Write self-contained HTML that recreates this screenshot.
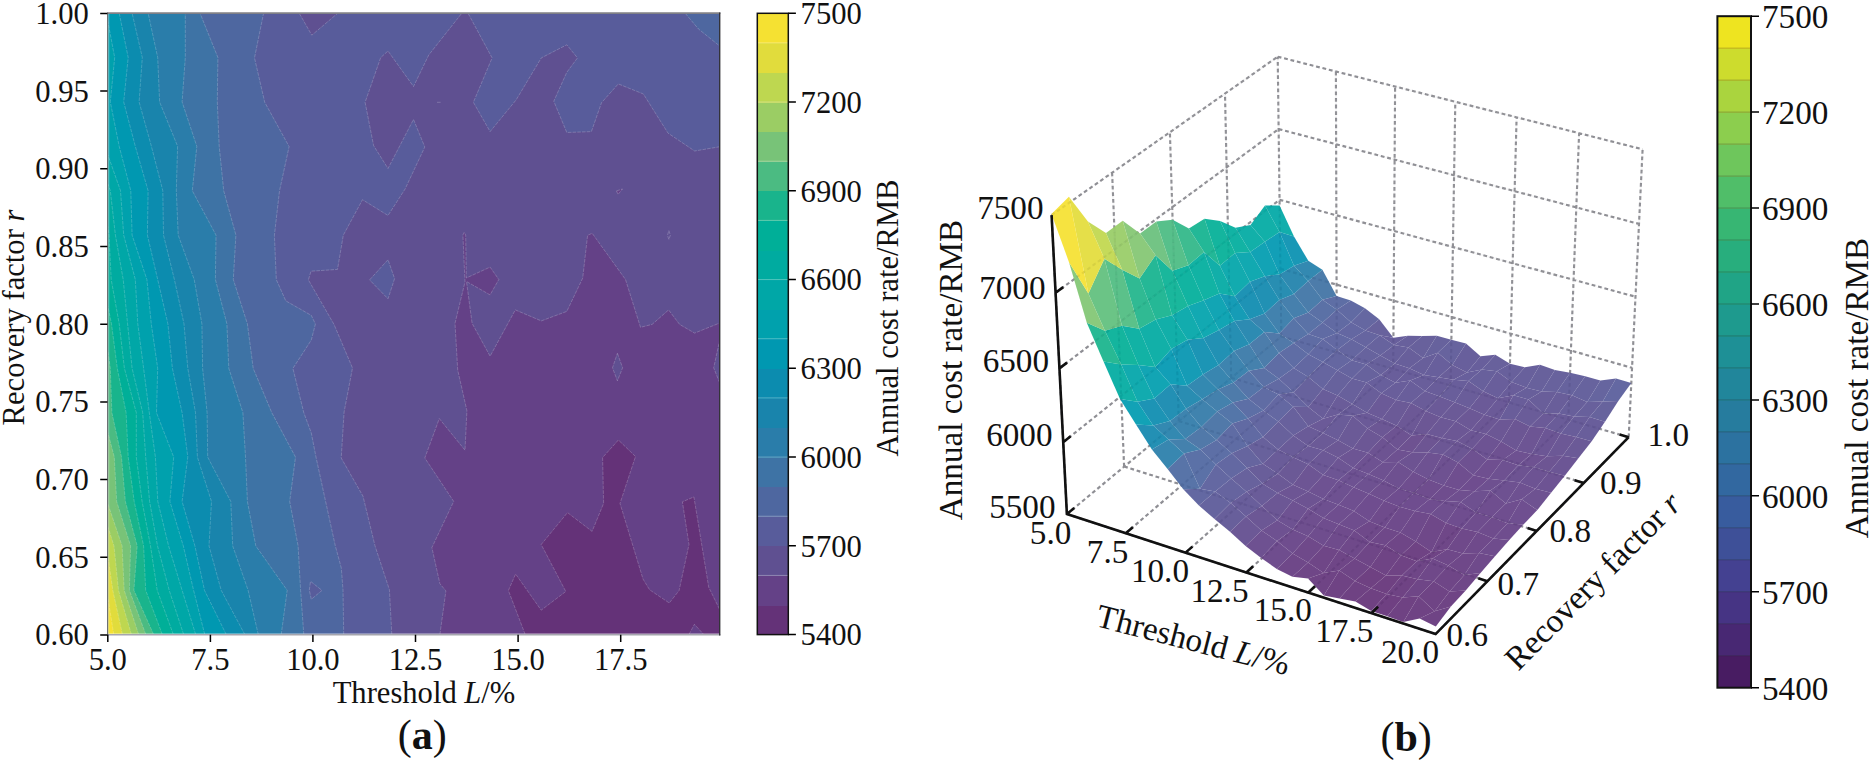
<!DOCTYPE html><html><head><meta charset="utf-8"><title>fig</title><style>html,body{margin:0;padding:0;background:#fff}svg{display:block}text{fill:#111}</style></head><body>
<svg width="1872" height="761" viewBox="0 0 1872 761">
<rect width="1872" height="761" fill="#fff"/>
<defs><clipPath id="cpl"><rect x="107.8" y="13.1" width="612.2" height="621.6"/></clipPath></defs>
<g clip-path="url(#cpl)" shape-rendering="geometricPrecision">
<rect x="106.8" y="12.1" width="614.2" height="623.6" fill="#f5e132"/>
<polygon points="113.8,636.7 113.8,634.7 107.8,597.0 105.8,597.0 105.8,11.1 722.0,11.1 722.0,636.7" fill="#e1dc3c"/>
<polygon points="122.5,636.7 122.5,634.7 112.8,590.3 107.8,555.3 105.8,555.3 105.8,11.1 722.0,11.1 722.0,636.7" fill="#bed750"/>
<polygon points="131.5,636.7 131.5,634.7 118.5,590.3 114.0,545.9 107.8,526.4 105.8,526.4 105.8,11.1 722.0,11.1 722.0,636.7" fill="#9bcd64"/>
<polygon points="138.7,636.7 138.7,634.7 124.2,590.3 122.1,545.9 107.8,503.7 105.8,503.7 105.8,11.1 722.0,11.1 722.0,636.7" fill="#78c378"/>
<polygon points="145.9,636.7 145.9,634.7 129.4,590.3 130.6,545.9 116.7,501.5 114.3,457.1 107.8,432.3 105.8,432.3 105.8,11.1 722.0,11.1 722.0,636.7" fill="#4bbb82"/>
<polygon points="153.7,636.7 153.7,634.7 133.9,590.3 137.2,545.9 125.4,501.5 121.5,457.1 111.9,412.7 110.3,368.3 107.8,350.2 105.8,350.2 105.8,11.1 722.0,11.1 722.0,636.7" fill="#19b48c"/>
<polygon points="162.4,636.7 162.4,634.7 145.7,590.3 143.6,545.9 134.2,501.5 128.2,457.1 126.1,412.7 117.3,368.3 111.5,323.9 107.8,306.1 105.8,306.1 105.8,11.1 722.0,11.1 722.0,636.7" fill="#00af98"/>
<polygon points="173.4,636.7 173.4,634.7 157.2,590.3 150.5,545.9 142.1,501.5 136.3,457.1 136.3,412.7 124.4,368.3 119.2,323.9 111.2,279.5 109.0,235.1 107.8,226.3 105.8,226.3 105.8,11.1 722.0,11.1 722.0,636.7" fill="#00aba0"/>
<polygon points="183.7,636.7 183.7,634.7 169.2,590.3 157.5,545.9 149.6,501.5 145.7,457.1 142.7,412.7 132.1,368.3 127.6,323.9 123.2,279.5 115.4,235.1 110.3,190.7 107.8,183.6 105.8,183.6 105.8,11.1 722.0,11.1 722.0,636.7" fill="#00a7a7"/>
<polygon points="195.7,636.7 195.7,634.7 182.1,590.3 168.6,545.9 157.8,501.5 155.4,457.1 149.3,412.7 143.6,368.3 137.8,323.9 135.3,279.5 123.7,235.1 120.5,190.7 107.8,154.7 105.8,154.7 105.8,11.1 722.0,11.1 722.0,636.7" fill="#00a1ad"/>
<polygon points="204.8,636.7 204.8,634.7 193.6,590.3 183.3,545.9 169.9,501.5 173.7,457.1 156.5,412.7 157.7,368.3 151.3,323.9 146.9,279.5 132.1,235.1 130.8,190.7 119.2,146.3 110.3,101.9 114.7,57.5 107.8,21.3 105.8,21.3 105.8,11.1 722.0,11.1 722.0,636.7" fill="#0098b1"/>
<polygon points="226.3,636.7 226.3,634.7 204.5,590.3 194.9,545.9 182.1,501.5 187.8,457.1 182.1,412.7 172.4,368.3 167.9,323.9 157.7,279.5 147.4,235.1 148.1,190.7 135.3,146.3 123.7,101.9 128.2,57.5 119.2,13.1 119.2,11.1 722.0,11.1 722.0,636.7" fill="#0c8caf"/>
<polygon points="244.9,636.7 244.9,634.7 221.2,590.3 209.0,545.9 211.5,501.5 197.4,457.1 195.5,412.7 187.8,368.3 184.0,323.9 174.4,279.5 163.5,235.1 162.8,190.7 151.4,146.3 139.1,101.9 142.3,57.5 132.1,13.1 132.1,11.1 722.0,11.1 722.0,636.7" fill="#1984ac"/>
<polygon points="258.3,636.7 258.3,634.7 248.1,590.3 232.7,545.9 230.8,501.5 207.7,457.1 207.1,412.7 202.6,368.3 201.9,323.9 194.2,279.5 178.2,235.1 176.3,190.7 177.6,146.3 159.6,101.9 157.7,57.5 148.1,13.1 148.1,11.1 722.0,11.1 722.0,636.7" fill="#2a7daa"/>
<polygon points="281.2,636.7 281.2,634.7 287.2,590.3 255.8,545.9 247.4,501.5 245.5,457.1 242.9,412.7 228.8,368.3 226.9,323.9 215.4,279.5 216.0,235.1 192.3,190.7 196.8,146.3 182.1,101.9 185.3,57.5 185.3,13.1 185.3,11.1 722.0,11.1 722.0,636.7" fill="#3e73a5"/>
<polygon points="303.8,636.7 303.8,634.7 300.6,590.3 298.1,545.9 289.7,501.5 295.5,457.1 271.8,412.7 253.2,368.3 247.4,323.9 233.3,279.5 235.9,235.1 223.7,190.7 219.2,146.3 217.3,101.9 217.9,57.5 200.0,13.1 200.0,11.1 722.0,11.1 722.0,636.7" fill="#4e67a0"/>
<polygon points="343.7,636.7 343.7,634.5 343.0,590.1 341.3,568.0 335.3,545.8 325.6,501.4 316.0,457.1 311.3,433.0 303.8,412.7 292.9,368.4 311.3,340.0 315.4,324.0 311.3,315.4 285.8,300.9 276.3,279.6 274.4,235.3 279.5,190.9 289.1,146.6 264.7,102.2 254.5,57.9 263.5,13.5 263.5,11.1 722.0,11.1 722.0,636.7" fill="#585c9b"/>
<polygon points="391.8,636.7 391.8,634.5 389.4,589.7 375.0,545.8 363.0,496.2 341.2,458.0 344.1,412.0 352.5,368.0 334.1,324.6 308.4,279.9 311.0,271.2 337.5,269.4 343.3,235.2 362.5,199.7 388.0,215.5 405.1,189.0 424.8,147.0 413.5,119.4 388.0,168.5 373.6,145.6 365.1,102.3 380.7,57.6 388.0,51.0 413.5,86.5 428.8,54.9 461.6,13.5 461.6,11.1 468.2,11.1 468.2,13.5 492.1,57.9 473.4,102.3 490.1,131.6 516.2,99.8 541.3,57.9 566.8,44.8 577.5,57.9 566.8,72.3 553.8,101.2 566.8,132.5 591.4,131.6 601.5,102.7 618.3,83.9 643.4,94.0 668.0,133.1 694.6,151.0 720.0,146.7 722.0,146.7 722.0,636.7" fill="#5f5091"/>
<polygon points="439.9,636.7 439.9,634.5 445.9,590.9 439.9,583.7 431.9,547.6 453.7,501.4 424.8,458.0 439.3,418.6 465.0,450.2 466.9,410.7 457.7,370.0 455.0,323.3 465.0,282.0 462.9,235.0 464.2,232.3 465.7,235.0 466.3,278.0 490.1,267.1 498.8,279.5 490.1,294.9 466.5,281.5 472.1,323.3 490.1,356.2 515.3,309.9 541.3,320.9 566.8,311.4 582.7,278.1 587.6,235.3 592.2,233.3 625.5,279.5 640.5,327.3 652.1,324.4 668.6,309.9 679.6,324.4 694.6,333.1 720.0,322.9 722.0,322.9 722.0,636.7" fill="#644187"/>
<polygon points="525.2,636.7 525.2,634.5 508.4,590.5 515.6,574.0 541.2,610.2 565.8,591.5 541.2,544.5 567.5,512.6 592.1,531.4 603.6,503.4 602.6,457.5 618.4,440.0 635.5,456.5 620.0,503.4 643.0,579.0 649.6,589.8 669.3,603.0 679.1,590.5 689.0,544.5 682.4,501.8 693.9,496.9 708.7,587.2 720.0,610.2 722.0,610.2 722.0,636.7" fill="#643278"/>
<polygon points="299.4,13.5 311.8,35.2 337.4,13.5" fill="#5f5091"/>
<polygon points="369.6,279.9 388.0,259.7 394.6,278.6 388.0,298.8" fill="#585c9b"/>
<polygon points="309.3,590.2 310.5,581.3 322.0,590.4 311.3,599.3" fill="#585c9b"/>
<polygon points="617.4,353.3 622.6,367.8 617.4,380.8 612.5,367.8" fill="#5f5091"/>
<polygon points="720.0,338.9 713.7,367.8 720.0,383.7" fill="#5f5091"/>
<polygon points="668.9,230.5 670.3,235.3 668.9,239.5 667.5,235.3" fill="#5f5091"/>
<polygon points="689.0,634.5 694.4,624.3 703.8,634.5" fill="#644187"/>
<polygon points="685.4,13.5 698.4,28.9 720.0,46.3 720.0,13.5" fill="#4e67a0"/>
<polygon points="616.5,190.9 622.5,189.0 618.0,194.5" fill="#644187"/>
<polyline points="113.8,634.7 107.8,597.0" fill="none" stroke="#ffffff" stroke-opacity="0.26" stroke-width="0.8" stroke-dasharray="3.6 1.1"/>
<polyline points="122.5,634.7 112.8,590.3 107.8,555.3" fill="none" stroke="#ffffff" stroke-opacity="0.26" stroke-width="0.8" stroke-dasharray="3.6 1.1"/>
<polyline points="131.5,634.7 118.5,590.3 114.0,545.9 107.8,526.4" fill="none" stroke="#ffffff" stroke-opacity="0.26" stroke-width="0.8" stroke-dasharray="3.6 1.1"/>
<polyline points="138.7,634.7 124.2,590.3 122.1,545.9 107.8,503.7" fill="none" stroke="#ffffff" stroke-opacity="0.26" stroke-width="0.8" stroke-dasharray="3.6 1.1"/>
<polyline points="145.9,634.7 129.4,590.3 130.6,545.9 116.7,501.5 114.3,457.1 107.8,432.3" fill="none" stroke="#ffffff" stroke-opacity="0.26" stroke-width="0.8" stroke-dasharray="3.6 1.1"/>
<polyline points="153.7,634.7 133.9,590.3 137.2,545.9 125.4,501.5 121.5,457.1 111.9,412.7 110.3,368.3 107.8,350.2" fill="none" stroke="#ffffff" stroke-opacity="0.26" stroke-width="0.8" stroke-dasharray="3.6 1.1"/>
<polyline points="162.4,634.7 145.7,590.3 143.6,545.9 134.2,501.5 128.2,457.1 126.1,412.7 117.3,368.3 111.5,323.9 107.8,306.1" fill="none" stroke="#ffffff" stroke-opacity="0.26" stroke-width="0.8" stroke-dasharray="3.6 1.1"/>
<polyline points="173.4,634.7 157.2,590.3 150.5,545.9 142.1,501.5 136.3,457.1 136.3,412.7 124.4,368.3 119.2,323.9 111.2,279.5 109.0,235.1 107.8,226.3" fill="none" stroke="#ffffff" stroke-opacity="0.26" stroke-width="0.8" stroke-dasharray="3.6 1.1"/>
<polyline points="183.7,634.7 169.2,590.3 157.5,545.9 149.6,501.5 145.7,457.1 142.7,412.7 132.1,368.3 127.6,323.9 123.2,279.5 115.4,235.1 110.3,190.7 107.8,183.6" fill="none" stroke="#ffffff" stroke-opacity="0.26" stroke-width="0.8" stroke-dasharray="3.6 1.1"/>
<polyline points="195.7,634.7 182.1,590.3 168.6,545.9 157.8,501.5 155.4,457.1 149.3,412.7 143.6,368.3 137.8,323.9 135.3,279.5 123.7,235.1 120.5,190.7 107.8,154.7" fill="none" stroke="#ffffff" stroke-opacity="0.26" stroke-width="0.8" stroke-dasharray="3.6 1.1"/>
<polyline points="204.8,634.7 193.6,590.3 183.3,545.9 169.9,501.5 173.7,457.1 156.5,412.7 157.7,368.3 151.3,323.9 146.9,279.5 132.1,235.1 130.8,190.7 119.2,146.3 110.3,101.9 114.7,57.5 107.8,21.3" fill="none" stroke="#ffffff" stroke-opacity="0.26" stroke-width="0.8" stroke-dasharray="3.6 1.1"/>
<polyline points="226.3,634.7 204.5,590.3 194.9,545.9 182.1,501.5 187.8,457.1 182.1,412.7 172.4,368.3 167.9,323.9 157.7,279.5 147.4,235.1 148.1,190.7 135.3,146.3 123.7,101.9 128.2,57.5 119.2,13.1" fill="none" stroke="#ffffff" stroke-opacity="0.26" stroke-width="0.8" stroke-dasharray="3.6 1.1"/>
<polyline points="244.9,634.7 221.2,590.3 209.0,545.9 211.5,501.5 197.4,457.1 195.5,412.7 187.8,368.3 184.0,323.9 174.4,279.5 163.5,235.1 162.8,190.7 151.4,146.3 139.1,101.9 142.3,57.5 132.1,13.1" fill="none" stroke="#ffffff" stroke-opacity="0.26" stroke-width="0.8" stroke-dasharray="3.6 1.1"/>
<polyline points="258.3,634.7 248.1,590.3 232.7,545.9 230.8,501.5 207.7,457.1 207.1,412.7 202.6,368.3 201.9,323.9 194.2,279.5 178.2,235.1 176.3,190.7 177.6,146.3 159.6,101.9 157.7,57.5 148.1,13.1" fill="none" stroke="#ffffff" stroke-opacity="0.26" stroke-width="0.8" stroke-dasharray="3.6 1.1"/>
<polyline points="281.2,634.7 287.2,590.3 255.8,545.9 247.4,501.5 245.5,457.1 242.9,412.7 228.8,368.3 226.9,323.9 215.4,279.5 216.0,235.1 192.3,190.7 196.8,146.3 182.1,101.9 185.3,57.5 185.3,13.1" fill="none" stroke="#ffffff" stroke-opacity="0.26" stroke-width="0.8" stroke-dasharray="3.6 1.1"/>
<polyline points="303.8,634.7 300.6,590.3 298.1,545.9 289.7,501.5 295.5,457.1 271.8,412.7 253.2,368.3 247.4,323.9 233.3,279.5 235.9,235.1 223.7,190.7 219.2,146.3 217.3,101.9 217.9,57.5 200.0,13.1" fill="none" stroke="#ffffff" stroke-opacity="0.26" stroke-width="0.8" stroke-dasharray="3.6 1.1"/>
<polyline points="343.7,634.5 343.0,590.1 341.3,568.0 335.3,545.8 325.6,501.4 316.0,457.1 311.3,433.0 303.8,412.7 292.9,368.4 311.3,340.0 315.4,324.0 311.3,315.4 285.8,300.9 276.3,279.6 274.4,235.3 279.5,190.9 289.1,146.6 264.7,102.2 254.5,57.9 263.5,13.5" fill="none" stroke="#ffffff" stroke-opacity="0.26" stroke-width="0.8" stroke-dasharray="3.6 1.1"/>
<polyline points="391.8,634.5 389.4,589.7 375.0,545.8 363.0,496.2 341.2,458.0 344.1,412.0 352.5,368.0 334.1,324.6 308.4,279.9 311.0,271.2 337.5,269.4 343.3,235.2 362.5,199.7 388.0,215.5 405.1,189.0 424.8,147.0 413.5,119.4 388.0,168.5 373.6,145.6 365.1,102.3 380.7,57.6 388.0,51.0 413.5,86.5 428.8,54.9 461.6,13.5" fill="none" stroke="#ffffff" stroke-opacity="0.26" stroke-width="0.8" stroke-dasharray="3.6 1.1"/>
<polyline points="468.2,13.5 492.1,57.9 473.4,102.3 490.1,131.6 516.2,99.8 541.3,57.9 566.8,44.8 577.5,57.9 566.8,72.3 553.8,101.2 566.8,132.5 591.4,131.6 601.5,102.7 618.3,83.9 643.4,94.0 668.0,133.1 694.6,151.0 720.0,146.7" fill="none" stroke="#ffffff" stroke-opacity="0.26" stroke-width="0.8" stroke-dasharray="3.6 1.1"/>
<polyline points="439.9,634.5 445.9,590.9 439.9,583.7 431.9,547.6 453.7,501.4 424.8,458.0 439.3,418.6 465.0,450.2 466.9,410.7 457.7,370.0 455.0,323.3 465.0,282.0 462.9,235.0 464.2,232.3 465.7,235.0 466.3,278.0 490.1,267.1 498.8,279.5 490.1,294.9 466.5,281.5 472.1,323.3 490.1,356.2 515.3,309.9 541.3,320.9 566.8,311.4 582.7,278.1 587.6,235.3 592.2,233.3 625.5,279.5 640.5,327.3 652.1,324.4 668.6,309.9 679.6,324.4 694.6,333.1 720.0,322.9" fill="none" stroke="#ffffff" stroke-opacity="0.26" stroke-width="0.8" stroke-dasharray="3.6 1.1"/>
<polyline points="525.2,634.5 508.4,590.5 515.6,574.0 541.2,610.2 565.8,591.5 541.2,544.5 567.5,512.6 592.1,531.4 603.6,503.4 602.6,457.5 618.4,440.0 635.5,456.5 620.0,503.4 643.0,579.0 649.6,589.8 669.3,603.0 679.1,590.5 689.0,544.5 682.4,501.8 693.9,496.9 708.7,587.2 720.0,610.2" fill="none" stroke="#ffffff" stroke-opacity="0.26" stroke-width="0.8" stroke-dasharray="3.6 1.1"/>
<polyline points="299.4,13.5 311.8,35.2 337.4,13.5 299.4,13.5" fill="none" stroke="#ffffff" stroke-opacity="0.26" stroke-width="0.8" stroke-dasharray="3.6 1.1"/>
<polyline points="369.6,279.9 388.0,259.7 394.6,278.6 388.0,298.8 369.6,279.9" fill="none" stroke="#ffffff" stroke-opacity="0.26" stroke-width="0.8" stroke-dasharray="3.6 1.1"/>
<polyline points="309.3,590.2 310.5,581.3 322.0,590.4 311.3,599.3 309.3,590.2" fill="none" stroke="#ffffff" stroke-opacity="0.26" stroke-width="0.8" stroke-dasharray="3.6 1.1"/>
<polyline points="617.4,353.3 622.6,367.8 617.4,380.8 612.5,367.8 617.4,353.3" fill="none" stroke="#ffffff" stroke-opacity="0.26" stroke-width="0.8" stroke-dasharray="3.6 1.1"/>
<polyline points="720.0,338.9 713.7,367.8 720.0,383.7 720.0,338.9" fill="none" stroke="#ffffff" stroke-opacity="0.26" stroke-width="0.8" stroke-dasharray="3.6 1.1"/>
<polyline points="668.9,230.5 670.3,235.3 668.9,239.5 667.5,235.3 668.9,230.5" fill="none" stroke="#ffffff" stroke-opacity="0.26" stroke-width="0.8" stroke-dasharray="3.6 1.1"/>
<polyline points="689.0,634.5 694.4,624.3 703.8,634.5 689.0,634.5" fill="none" stroke="#ffffff" stroke-opacity="0.26" stroke-width="0.8" stroke-dasharray="3.6 1.1"/>
<polyline points="685.4,13.5 698.4,28.9 720.0,46.3 720.0,13.5 685.4,13.5" fill="none" stroke="#ffffff" stroke-opacity="0.26" stroke-width="0.8" stroke-dasharray="3.6 1.1"/>
<polyline points="616.5,190.9 622.5,189.0 618.0,194.5 616.5,190.9" fill="none" stroke="#ffffff" stroke-opacity="0.26" stroke-width="0.8" stroke-dasharray="3.6 1.1"/>
<polyline points="437.0,102.3 441.5,102.3" fill="none" stroke="#ffffff" stroke-opacity="0.26" stroke-width="0.8" stroke-dasharray="3.6 1.1"/>
</g>
<path d="M108.7 13.1V634.7" stroke="#ffffff" stroke-opacity="0.5" stroke-width="0.9"/>
<path d="M107.8 633.7H720.0" stroke="#ffffff" stroke-opacity="0.45" stroke-width="0.9"/>
<path d="M107.3 634.7H720.4" stroke="#a6a6ae" stroke-width="1.5"/>
<path d="M107.6 12.5V635.3" stroke="#6c7074" stroke-width="1.2"/>
<path d="M107.1 13.2H720.4" stroke="#808086" stroke-width="1.7"/>
<path d="M719.7 12.4V635.4" stroke="#333338" stroke-width="1.4"/>
<text x="88.8" y="645.4" text-anchor="end" style="font-family:'Liberation Serif',serif;font-size:30.6px">0.60</text>
<text x="88.8" y="567.7" text-anchor="end" style="font-family:'Liberation Serif',serif;font-size:30.6px">0.65</text>
<text x="88.8" y="490.0" text-anchor="end" style="font-family:'Liberation Serif',serif;font-size:30.6px">0.70</text>
<text x="88.8" y="412.3" text-anchor="end" style="font-family:'Liberation Serif',serif;font-size:30.6px">0.75</text>
<text x="88.8" y="334.6" text-anchor="end" style="font-family:'Liberation Serif',serif;font-size:30.6px">0.80</text>
<text x="88.8" y="256.9" text-anchor="end" style="font-family:'Liberation Serif',serif;font-size:30.6px">0.85</text>
<text x="88.8" y="179.2" text-anchor="end" style="font-family:'Liberation Serif',serif;font-size:30.6px">0.90</text>
<text x="88.8" y="101.5" text-anchor="end" style="font-family:'Liberation Serif',serif;font-size:30.6px">0.95</text>
<text x="88.8" y="23.8" text-anchor="end" style="font-family:'Liberation Serif',serif;font-size:30.6px">1.00</text>
<text x="107.8" y="669.6" text-anchor="middle" style="font-family:'Liberation Serif',serif;font-size:30.6px">5.0</text>
<text x="210.4" y="669.6" text-anchor="middle" style="font-family:'Liberation Serif',serif;font-size:30.6px">7.5</text>
<text x="312.9" y="669.6" text-anchor="middle" style="font-family:'Liberation Serif',serif;font-size:30.6px">10.0</text>
<text x="415.5" y="669.6" text-anchor="middle" style="font-family:'Liberation Serif',serif;font-size:30.6px">12.5</text>
<text x="518.1" y="669.6" text-anchor="middle" style="font-family:'Liberation Serif',serif;font-size:30.6px">15.0</text>
<text x="620.7" y="669.6" text-anchor="middle" style="font-family:'Liberation Serif',serif;font-size:30.6px">17.5</text>
<path d="M100.2 635.0H107.4M100.2 557.3H107.4M100.2 479.6H107.4M100.2 401.9H107.4M100.2 324.2H107.4M100.2 246.5H107.4M100.2 168.8H107.4M100.2 91.1H107.4M100.2 13.4H107.4M107.8 634.7V642.1M210.4 634.7V642.1M312.9 634.7V642.1M415.5 634.7V642.1M518.1 634.7V642.1M620.7 634.7V642.1" stroke="#000" stroke-width="1.5" fill="none"/>
<text x="424" y="702.9" text-anchor="middle" style="font-family:'Liberation Serif',serif;font-size:30.6px">Threshold <tspan font-style="italic">L</tspan>/%</text>
<text transform="translate(23.9,317.5) rotate(-90)" text-anchor="middle" style="font-family:'Liberation Serif',serif;font-size:30.6px">Recovery factor <tspan font-style="italic">r</tspan></text>
<text x="422.2" y="749" text-anchor="middle" style="font-family:'Liberation Serif',serif;font-size:42px">(<tspan font-weight="bold">a</tspan>)</text>
<rect x="757.3" y="605.01" width="31.0" height="30.19" fill="#643278" shape-rendering="crispEdges"/>
<rect x="757.3" y="575.43" width="31.0" height="30.19" fill="#644187" shape-rendering="crispEdges"/>
<rect x="757.3" y="545.84" width="31.0" height="30.19" fill="#5f5091" shape-rendering="crispEdges"/>
<rect x="757.3" y="516.26" width="31.0" height="30.19" fill="#585c9b" shape-rendering="crispEdges"/>
<rect x="757.3" y="486.67" width="31.0" height="30.19" fill="#4e67a0" shape-rendering="crispEdges"/>
<rect x="757.3" y="457.09" width="31.0" height="30.19" fill="#3e73a5" shape-rendering="crispEdges"/>
<rect x="757.3" y="427.50" width="31.0" height="30.19" fill="#2a7daa" shape-rendering="crispEdges"/>
<rect x="757.3" y="397.91" width="31.0" height="30.19" fill="#1984ac" shape-rendering="crispEdges"/>
<rect x="757.3" y="368.33" width="31.0" height="30.19" fill="#0c8caf" shape-rendering="crispEdges"/>
<rect x="757.3" y="338.74" width="31.0" height="30.19" fill="#0098b1" shape-rendering="crispEdges"/>
<rect x="757.3" y="309.16" width="31.0" height="30.19" fill="#00a1ad" shape-rendering="crispEdges"/>
<rect x="757.3" y="279.57" width="31.0" height="30.19" fill="#00a7a7" shape-rendering="crispEdges"/>
<rect x="757.3" y="249.99" width="31.0" height="30.19" fill="#00aba0" shape-rendering="crispEdges"/>
<rect x="757.3" y="220.40" width="31.0" height="30.19" fill="#00af98" shape-rendering="crispEdges"/>
<rect x="757.3" y="190.81" width="31.0" height="30.19" fill="#19b48c" shape-rendering="crispEdges"/>
<rect x="757.3" y="161.23" width="31.0" height="30.19" fill="#4bbb82" shape-rendering="crispEdges"/>
<rect x="757.3" y="131.64" width="31.0" height="30.19" fill="#78c378" shape-rendering="crispEdges"/>
<rect x="757.3" y="102.06" width="31.0" height="30.19" fill="#9bcd64" shape-rendering="crispEdges"/>
<rect x="757.3" y="72.47" width="31.0" height="30.19" fill="#bed750" shape-rendering="crispEdges"/>
<rect x="757.3" y="42.89" width="31.0" height="30.19" fill="#e1dc3c" shape-rendering="crispEdges"/>
<rect x="757.3" y="13.30" width="31.0" height="30.19" fill="#f5e132" shape-rendering="crispEdges"/>
<path d="M757.3 575.43H788.3" stroke="rgba(255,255,255,0.35)" stroke-width="0.9"/>
<path d="M757.3 516.26H788.3" stroke="rgba(255,255,255,0.35)" stroke-width="0.9"/>
<path d="M757.3 457.09H788.3" stroke="rgba(255,255,255,0.35)" stroke-width="0.9"/>
<path d="M757.3 397.91H788.3" stroke="rgba(255,255,255,0.35)" stroke-width="0.9"/>
<path d="M757.3 338.74H788.3" stroke="rgba(255,255,255,0.35)" stroke-width="0.9"/>
<path d="M757.3 279.57H788.3" stroke="rgba(255,255,255,0.35)" stroke-width="0.9"/>
<path d="M757.3 220.40H788.3" stroke="rgba(255,255,255,0.35)" stroke-width="0.9"/>
<path d="M757.3 161.23H788.3" stroke="rgba(255,255,255,0.35)" stroke-width="0.9"/>
<path d="M757.3 102.06H788.3" stroke="rgba(255,255,255,0.35)" stroke-width="0.9"/>
<path d="M757.3 42.89H788.3" stroke="rgba(255,255,255,0.35)" stroke-width="0.9"/>
<rect x="757.3" y="13.3" width="31.0" height="621.3" fill="none" stroke="#111" stroke-width="1.5"/>
<text x="800.6" y="645.3" style="font-family:'Liberation Serif',serif;font-size:30.6px">5400</text>
<text x="800.6" y="556.5" style="font-family:'Liberation Serif',serif;font-size:30.6px">5700</text>
<text x="800.6" y="467.8" style="font-family:'Liberation Serif',serif;font-size:30.6px">6000</text>
<text x="800.6" y="379.0" style="font-family:'Liberation Serif',serif;font-size:30.6px">6300</text>
<text x="800.6" y="290.3" style="font-family:'Liberation Serif',serif;font-size:30.6px">6600</text>
<text x="800.6" y="201.5" style="font-family:'Liberation Serif',serif;font-size:30.6px">6900</text>
<text x="800.6" y="112.8" style="font-family:'Liberation Serif',serif;font-size:30.6px">7200</text>
<text x="800.6" y="24.0" style="font-family:'Liberation Serif',serif;font-size:30.6px">7500</text>
<path d="M788.3 634.6H795.9M788.3 545.8H795.9M788.3 457.1H795.9M788.3 368.3H795.9M788.3 279.6H795.9M788.3 190.8H795.9M788.3 102.1H795.9M788.3 13.3H795.9" stroke="#000" stroke-width="1.5" fill="none"/>
<text transform="translate(898.0,318.0) rotate(-90)" text-anchor="middle" style="font-family:'Liberation Serif',serif;font-size:30.6px">Annual cost rate/RMB</text>
<path d="M1066.9 514.1L1281.3 336.4M1281.3 336.4L1277.7 56.7M1125.5 533.4L1336.8 352.6M1336.8 352.6L1335.9 71.6M1185.3 552.9L1393.2 369.0M1393.2 369.0L1395.1 86.7M1246.1 572.7L1450.6 385.7M1450.6 385.7L1455.3 102.0M1308.1 592.8L1508.9 402.6M1508.9 402.6L1516.6 117.5M1371.3 613.3L1568.3 419.8M1568.3 419.8L1579.1 133.3M1435.6 634.1L1628.7 437.2M1628.7 437.2L1642.6 149.3M1066.9 514.1L1435.6 634.1M1066.9 514.1L1051.6 215.1M1124.1 466.5L1487.3 581.2M1124.1 466.5L1112.1 172.6M1178.8 421.1L1536.6 530.9M1178.8 421.1L1169.9 132.1M1231.2 377.8L1583.7 482.9M1231.2 377.8L1225.0 93.5M1281.3 336.4L1628.7 437.2M1281.3 336.4L1277.7 56.7M1066.9 514.1L1281.3 336.4M1281.3 336.4L1628.7 437.2M1063.2 442.2L1280.4 268.8M1280.4 268.8L1632.0 367.8M1059.4 368.4L1279.6 199.8M1279.6 199.8L1635.5 296.7M1055.6 292.8L1278.7 129.1M1278.7 129.1L1639.0 223.9M1051.6 215.1L1277.7 56.7M1277.7 56.7L1642.6 149.3" fill="none" stroke="#929297" stroke-width="2.15" stroke-dasharray="3.8 2.8"/>
<g stroke="none">
<polygon points="1308.2,281.1 1322.5,299.8 1336.6,296.1 1322.4,269.8" fill="#4072a4" fill-opacity="0.93"/>
<polygon points="1294.0,265.7 1308.2,281.1 1322.4,269.8 1308.3,260.8" fill="#2380ab" fill-opacity="0.93"/>
<polygon points="1322.5,299.8 1336.8,309.8 1350.8,300.5 1336.6,296.1" fill="#52639e" fill-opacity="0.93"/>
<polygon points="1279.5,232.0 1294.0,265.7 1308.3,260.8 1294.0,236.5" fill="#0890b0" fill-opacity="0.93"/>
<polygon points="1336.8,309.8 1351.1,322.2 1365.0,308.3 1350.8,300.5" fill="#555f9c" fill-opacity="0.93"/>
<polygon points="1265.0,205.5 1279.5,232.0 1294.0,236.5 1279.6,205.4" fill="#00a8a6" fill-opacity="0.93"/>
<polygon points="1351.1,322.2 1365.4,330.6 1379.2,319.3 1365.0,308.3" fill="#595b9a" fill-opacity="0.93"/>
<polygon points="1365.4,330.6 1379.7,335.3 1393.4,337.7 1379.2,319.3" fill="#5c5696" fill-opacity="0.93"/>
<polygon points="1379.7,335.3 1394.1,344.9 1407.8,335.8 1393.4,337.7" fill="#5d5394" fill-opacity="0.93"/>
<polygon points="1293.9,294.1 1308.3,312.5 1322.5,299.8 1308.2,281.1" fill="#3d73a5" fill-opacity="0.93"/>
<polygon points="1279.5,274.4 1293.9,294.1 1308.2,281.1 1294.0,265.7" fill="#1f81ab" fill-opacity="0.93"/>
<polygon points="1308.3,312.5 1322.6,322.6 1336.8,309.8 1322.5,299.8" fill="#4f669f" fill-opacity="0.93"/>
<polygon points="1394.1,344.9 1408.6,347.5 1422.2,336.0 1407.8,335.8" fill="#5c5495" fill-opacity="0.93"/>
<polygon points="1322.6,322.6 1337.0,333.0 1351.1,322.2 1336.8,309.8" fill="#555f9c" fill-opacity="0.93"/>
<polygon points="1264.9,241.8 1279.5,274.4 1294.0,265.7 1279.5,232.0" fill="#0098b1" fill-opacity="0.93"/>
<polygon points="1337.0,333.0 1351.4,339.2 1365.4,330.6 1351.1,322.2" fill="#585b9b" fill-opacity="0.93"/>
<polygon points="1250.5,225.1 1264.9,241.8 1279.5,232.0 1265.0,205.5" fill="#00aaa2" fill-opacity="0.93"/>
<polygon points="1408.6,347.5 1423.1,358.1 1436.8,335.7 1422.2,336.0" fill="#5c5595" fill-opacity="0.93"/>
<polygon points="1351.4,339.2 1365.8,347.2 1379.7,335.3 1365.4,330.6" fill="#5a5999" fill-opacity="0.93"/>
<polygon points="1365.8,347.2 1380.3,355.5 1394.1,344.9 1379.7,335.3" fill="#5b5797" fill-opacity="0.93"/>
<polygon points="1423.1,358.1 1437.8,352.7 1451.3,339.7 1436.8,335.7" fill="#5b5696" fill-opacity="0.93"/>
<polygon points="1279.4,300.0 1293.8,318.3 1308.3,312.5 1293.9,294.1" fill="#3876a7" fill-opacity="0.93"/>
<polygon points="1293.8,318.3 1308.3,333.9 1322.6,322.6 1308.3,312.5" fill="#4e67a0" fill-opacity="0.93"/>
<polygon points="1264.8,276.2 1279.4,300.0 1293.9,294.1 1279.5,274.4" fill="#1885ac" fill-opacity="0.93"/>
<polygon points="1380.3,355.5 1394.8,363.6 1408.6,347.5 1394.1,344.9" fill="#5c5495" fill-opacity="0.93"/>
<polygon points="1308.3,333.9 1322.7,339.0 1337.0,333.0 1322.6,322.6" fill="#54609d" fill-opacity="0.93"/>
<polygon points="1437.8,352.7 1452.3,364.9 1466.0,343.4 1451.3,339.7" fill="#5b5797" fill-opacity="0.93"/>
<polygon points="1250.2,251.9 1264.8,276.2 1279.5,274.4 1264.9,241.8" fill="#009caf" fill-opacity="0.93"/>
<polygon points="1394.8,363.6 1409.3,368.3 1423.1,358.1 1408.6,347.5" fill="#5d5393" fill-opacity="0.93"/>
<polygon points="1322.7,339.0 1337.2,349.9 1351.4,339.2 1337.0,333.0" fill="#575e9c" fill-opacity="0.93"/>
<polygon points="1235.5,227.8 1250.2,251.9 1264.9,241.8 1250.5,225.1" fill="#00aaa2" fill-opacity="0.93"/>
<polygon points="1452.3,364.9 1467.0,372.4 1480.5,356.3 1466.0,343.4" fill="#5d5394" fill-opacity="0.93"/>
<polygon points="1337.2,349.9 1351.7,360.3 1365.8,347.2 1351.4,339.2" fill="#595a99" fill-opacity="0.93"/>
<polygon points="1409.3,368.3 1424.0,374.9 1437.8,352.7 1423.1,358.1" fill="#5d5393" fill-opacity="0.93"/>
<polygon points="1467.0,372.4 1481.9,369.4 1495.3,354.8 1480.5,356.3" fill="#5d5394" fill-opacity="0.93"/>
<polygon points="1351.7,360.3 1366.2,364.5 1380.3,355.5 1365.8,347.2" fill="#5b5797" fill-opacity="0.93"/>
<polygon points="1264.7,313.4 1279.3,333.4 1293.8,318.3 1279.4,300.0" fill="#3478a8" fill-opacity="0.93"/>
<polygon points="1279.3,333.4 1293.8,343.1 1308.3,333.9 1293.8,318.3" fill="#4b69a1" fill-opacity="0.93"/>
<polygon points="1424.0,374.9 1438.7,377.2 1452.3,364.9 1437.8,352.7" fill="#5d5394" fill-opacity="0.93"/>
<polygon points="1366.2,364.5 1380.8,375.1 1394.8,363.6 1380.3,355.5" fill="#5c5595" fill-opacity="0.93"/>
<polygon points="1249.9,281.7 1264.7,313.4 1279.4,300.0 1264.8,276.2" fill="#1089ae" fill-opacity="0.93"/>
<polygon points="1293.8,343.1 1308.3,354.2 1322.7,339.0 1308.3,333.9" fill="#53619d" fill-opacity="0.93"/>
<polygon points="1481.9,369.4 1496.8,371.3 1510.0,363.7 1495.3,354.8" fill="#5c5595" fill-opacity="0.93"/>
<polygon points="1380.8,375.1 1395.4,382.8 1409.3,368.3 1394.8,363.6" fill="#5e5293" fill-opacity="0.93"/>
<polygon points="1438.7,377.2 1453.5,379.7 1467.0,372.4 1452.3,364.9" fill="#5e5292" fill-opacity="0.93"/>
<polygon points="1235.1,252.9 1249.9,281.7 1264.8,276.2 1250.2,251.9" fill="#00a3ab" fill-opacity="0.93"/>
<polygon points="1308.3,354.2 1322.8,362.1 1337.2,349.9 1322.7,339.0" fill="#565e9c" fill-opacity="0.93"/>
<polygon points="1496.8,371.3 1511.6,381.9 1524.8,367.3 1510.0,363.7" fill="#5d5494" fill-opacity="0.93"/>
<polygon points="1322.8,362.1 1337.4,370.3 1351.7,360.3 1337.2,349.9" fill="#595b9a" fill-opacity="0.93"/>
<polygon points="1220.1,221.0 1235.1,252.9 1250.2,251.9 1235.5,227.8" fill="#00ad9d" fill-opacity="0.93"/>
<polygon points="1395.4,382.8 1410.2,380.4 1424.0,374.9 1409.3,368.3" fill="#5e5293" fill-opacity="0.93"/>
<polygon points="1453.5,379.7 1468.4,381.1 1481.9,369.4 1467.0,372.4" fill="#5d5394" fill-opacity="0.93"/>
<polygon points="1511.6,381.9 1526.5,387.8 1540.0,364.7 1524.8,367.3" fill="#5d5494" fill-opacity="0.93"/>
<polygon points="1337.4,370.3 1352.0,378.4 1366.2,364.5 1351.7,360.3" fill="#5a5898" fill-opacity="0.93"/>
<polygon points="1410.2,380.4 1424.9,390.9 1438.7,377.2 1424.0,374.9" fill="#5e5293" fill-opacity="0.93"/>
<polygon points="1249.7,319.3 1264.3,332.1 1279.3,333.4 1264.7,313.4" fill="#2b7caa" fill-opacity="0.93"/>
<polygon points="1264.3,332.1 1279.0,352.9 1293.8,343.1 1279.3,333.4" fill="#446fa3" fill-opacity="0.93"/>
<polygon points="1352.0,378.4 1366.6,382.4 1380.8,375.1 1366.2,364.5" fill="#5b5696" fill-opacity="0.93"/>
<polygon points="1468.4,381.1 1483.2,391.3 1496.8,371.3 1481.9,369.4" fill="#5c5495" fill-opacity="0.93"/>
<polygon points="1279.0,352.9 1293.7,368.0 1308.3,354.2 1293.8,343.1" fill="#53629e" fill-opacity="0.93"/>
<polygon points="1234.9,296.2 1249.7,319.3 1264.7,313.4 1249.9,281.7" fill="#0d8baf" fill-opacity="0.93"/>
<polygon points="1526.5,387.8 1541.6,391.5 1554.9,369.9 1540.0,364.7" fill="#5c5595" fill-opacity="0.93"/>
<polygon points="1293.7,368.0 1308.3,377.0 1322.8,362.1 1308.3,354.2" fill="#575d9b" fill-opacity="0.93"/>
<polygon points="1424.9,390.9 1439.7,396.6 1453.5,379.7 1438.7,377.2" fill="#5e5192" fill-opacity="0.93"/>
<polygon points="1366.6,382.4 1381.3,393.3 1395.4,382.8 1380.8,375.1" fill="#5d5394" fill-opacity="0.93"/>
<polygon points="1483.2,391.3 1498.1,398.3 1511.6,381.9 1496.8,371.3" fill="#5e5293" fill-opacity="0.93"/>
<polygon points="1219.9,265.7 1234.9,296.2 1249.9,281.7 1235.1,252.9" fill="#00a5a9" fill-opacity="0.93"/>
<polygon points="1308.3,377.0 1322.9,389.1 1337.4,370.3 1322.8,362.1" fill="#5a5999" fill-opacity="0.93"/>
<polygon points="1541.6,391.5 1556.8,391.9 1570.1,372.8 1554.9,369.9" fill="#5c5696" fill-opacity="0.93"/>
<polygon points="1381.3,393.3 1396.1,400.1 1410.2,380.4 1395.4,382.8" fill="#5e5293" fill-opacity="0.93"/>
<polygon points="1439.7,396.6 1454.6,402.3 1468.4,381.1 1453.5,379.7" fill="#5e5293" fill-opacity="0.93"/>
<polygon points="1498.1,398.3 1513.4,395.3 1526.5,387.8 1511.6,381.9" fill="#5e5192" fill-opacity="0.93"/>
<polygon points="1322.9,389.1 1337.6,395.4 1352.0,378.4 1337.4,370.3" fill="#5b5696" fill-opacity="0.93"/>
<polygon points="1204.5,218.8 1219.9,265.7 1235.1,252.9 1220.1,221.0" fill="#02af97" fill-opacity="0.93"/>
<polygon points="1556.8,391.9 1572.0,395.2 1585.2,376.3 1570.1,372.8" fill="#5b5797" fill-opacity="0.93"/>
<polygon points="1454.6,402.3 1469.5,408.3 1483.2,391.3 1468.4,381.1" fill="#5f5192" fill-opacity="0.93"/>
<polygon points="1396.1,400.1 1410.9,403.1 1424.9,390.9 1410.2,380.4" fill="#5e5293" fill-opacity="0.93"/>
<polygon points="1337.6,395.4 1352.3,404.1 1366.6,382.4 1352.0,378.4" fill="#5d5495" fill-opacity="0.93"/>
<polygon points="1513.4,395.3 1528.5,399.5 1541.6,391.5 1526.5,387.8" fill="#5d5393" fill-opacity="0.93"/>
<polygon points="1264.2,368.0 1278.8,378.7 1293.7,368.0 1279.0,352.9" fill="#53629e" fill-opacity="0.93"/>
<polygon points="1249.3,344.2 1264.2,368.0 1279.0,352.9 1264.3,332.1" fill="#3e73a5" fill-opacity="0.93"/>
<polygon points="1234.4,321.1 1249.3,344.2 1264.3,332.1 1249.7,319.3" fill="#1d82ac" fill-opacity="0.93"/>
<polygon points="1469.5,408.3 1484.5,414.8 1498.1,398.3 1483.2,391.3" fill="#604e90" fill-opacity="0.93"/>
<polygon points="1410.9,403.1 1425.8,410.9 1439.7,396.6 1424.9,390.9" fill="#5f5091" fill-opacity="0.93"/>
<polygon points="1572.0,395.2 1587.2,401.9 1600.4,380.6 1585.2,376.3" fill="#5b5797" fill-opacity="0.93"/>
<polygon points="1352.3,404.1 1367.1,412.7 1381.3,393.3 1366.6,382.4" fill="#5e5292" fill-opacity="0.93"/>
<polygon points="1278.8,378.7 1293.6,392.2 1308.3,377.0 1293.7,368.0" fill="#585c9b" fill-opacity="0.93"/>
<polygon points="1219.4,293.5 1234.4,321.1 1249.7,319.3 1234.9,296.2" fill="#0494b0" fill-opacity="0.93"/>
<polygon points="1528.5,399.5 1543.3,413.6 1556.8,391.9 1541.6,391.5" fill="#5e5292" fill-opacity="0.93"/>
<polygon points="1293.6,392.2 1308.3,406.9 1322.9,389.1 1308.3,377.0" fill="#5b5696" fill-opacity="0.93"/>
<polygon points="1367.1,412.7 1381.9,419.0 1396.1,400.1 1381.3,393.3" fill="#604e90" fill-opacity="0.93"/>
<polygon points="1425.8,410.9 1440.7,417.2 1454.6,402.3 1439.7,396.6" fill="#604e90" fill-opacity="0.93"/>
<polygon points="1308.3,406.9 1323.1,418.8 1337.6,395.4 1322.9,389.1" fill="#5e5192" fill-opacity="0.93"/>
<polygon points="1484.5,414.8 1499.6,419.6 1513.4,395.3 1498.1,398.3" fill="#604e90" fill-opacity="0.93"/>
<polygon points="1587.2,401.9 1602.7,401.4 1616.0,378.5 1600.4,380.6" fill="#5a5998" fill-opacity="0.93"/>
<polygon points="1204.0,252.0 1219.4,293.5 1234.9,296.2 1219.9,265.7" fill="#00a9a3" fill-opacity="0.93"/>
<polygon points="1543.3,413.6 1558.7,413.6 1572.0,395.2 1556.8,391.9" fill="#5e5292" fill-opacity="0.93"/>
<polygon points="1381.9,419.0 1396.7,425.8 1410.9,403.1 1396.1,400.1" fill="#604d8f" fill-opacity="0.93"/>
<polygon points="1440.7,417.2 1455.8,421.3 1469.5,408.3 1454.6,402.3" fill="#604d8f" fill-opacity="0.93"/>
<polygon points="1323.1,418.8 1337.8,414.6 1352.3,404.1 1337.6,395.4" fill="#5f5091" fill-opacity="0.93"/>
<polygon points="1499.6,419.6 1514.9,419.0 1528.5,399.5 1513.4,395.3" fill="#5e5192" fill-opacity="0.93"/>
<polygon points="1396.7,425.8 1411.6,435.4 1425.8,410.9 1410.9,403.1" fill="#614b8e" fill-opacity="0.93"/>
<polygon points="1558.7,413.6 1574.1,416.4 1587.2,401.9 1572.0,395.2" fill="#5d5393" fill-opacity="0.93"/>
<polygon points="1602.7,401.4 1618.3,401.1 1631.3,382.9 1616.0,378.5" fill="#585c9b" fill-opacity="0.93"/>
<polygon points="1188.9,228.4 1204.0,252.0 1219.9,265.7 1204.5,218.8" fill="#12b38f" fill-opacity="0.93"/>
<polygon points="1455.8,421.3 1470.8,430.2 1484.5,414.8 1469.5,408.3" fill="#614b8e" fill-opacity="0.93"/>
<polygon points="1248.9,370.8 1263.8,386.9 1278.8,378.7 1264.2,368.0" fill="#4f669f" fill-opacity="0.93"/>
<polygon points="1234.0,351.1 1248.9,370.8 1264.2,368.0 1249.3,344.2" fill="#3777a7" fill-opacity="0.93"/>
<polygon points="1337.8,414.6 1352.6,415.7 1367.1,412.7 1352.3,404.1" fill="#5f5192" fill-opacity="0.93"/>
<polygon points="1514.9,419.0 1530.0,426.4 1543.3,413.6 1528.5,399.5" fill="#5f5091" fill-opacity="0.93"/>
<polygon points="1219.0,330.1 1234.0,351.1 1249.3,344.2 1234.4,321.1" fill="#1586ad" fill-opacity="0.93"/>
<polygon points="1263.8,386.9 1278.5,394.6 1293.6,392.2 1278.8,378.7" fill="#565f9c" fill-opacity="0.93"/>
<polygon points="1411.6,435.4 1426.7,434.1 1440.7,417.2 1425.8,410.9" fill="#614a8d" fill-opacity="0.93"/>
<polygon points="1470.8,430.2 1485.9,434.0 1499.6,419.6 1484.5,414.8" fill="#614a8d" fill-opacity="0.93"/>
<polygon points="1574.1,416.4 1589.6,416.9 1602.7,401.4 1587.2,401.9" fill="#5d5494" fill-opacity="0.93"/>
<polygon points="1278.5,394.6 1293.3,406.8 1308.3,406.9 1293.6,392.2" fill="#5a5999" fill-opacity="0.93"/>
<polygon points="1352.6,415.7 1367.5,428.4 1381.9,419.0 1367.1,412.7" fill="#604e90" fill-opacity="0.93"/>
<polygon points="1203.8,300.2 1219.0,330.1 1234.4,321.1 1219.4,293.5" fill="#009eae" fill-opacity="0.93"/>
<polygon points="1293.3,406.8 1308.3,426.3 1323.1,418.8 1308.3,406.9" fill="#5e5292" fill-opacity="0.93"/>
<polygon points="1530.0,426.4 1545.4,428.1 1558.7,413.6 1543.3,413.6" fill="#604e90" fill-opacity="0.93"/>
<polygon points="1367.5,428.4 1382.4,437.2 1396.7,425.8 1381.9,419.0" fill="#614a8d" fill-opacity="0.93"/>
<polygon points="1426.7,434.1 1441.8,438.1 1455.8,421.3 1440.7,417.2" fill="#614b8e" fill-opacity="0.93"/>
<polygon points="1485.9,434.0 1501.1,441.5 1514.9,419.0 1499.6,419.6" fill="#614a8d" fill-opacity="0.93"/>
<polygon points="1308.3,426.3 1323.1,432.9 1337.8,414.6 1323.1,418.8" fill="#604e90" fill-opacity="0.93"/>
<polygon points="1589.6,416.9 1605.0,421.8 1618.3,401.1 1602.7,401.4" fill="#5b5796" fill-opacity="0.93"/>
<polygon points="1188.4,265.2 1203.8,300.2 1219.4,293.5 1204.0,252.0" fill="#00ad9d" fill-opacity="0.93"/>
<polygon points="1382.4,437.2 1397.4,449.4 1411.6,435.4 1396.7,425.8" fill="#62468a" fill-opacity="0.93"/>
<polygon points="1545.4,428.1 1560.7,433.6 1574.1,416.4 1558.7,413.6" fill="#5f5091" fill-opacity="0.93"/>
<polygon points="1441.8,438.1 1456.9,441.1 1470.8,430.2 1455.8,421.3" fill="#614a8d" fill-opacity="0.93"/>
<polygon points="1501.1,441.5 1516.2,450.6 1530.0,426.4 1514.9,419.0" fill="#61498c" fill-opacity="0.93"/>
<polygon points="1323.1,432.9 1338.0,440.2 1352.6,415.7 1337.8,414.6" fill="#5f5091" fill-opacity="0.93"/>
<polygon points="1397.4,449.4 1412.5,452.2 1426.7,434.1 1411.6,435.4" fill="#634589" fill-opacity="0.93"/>
<polygon points="1218.6,365.1 1233.6,382.5 1248.9,370.8 1234.0,351.1" fill="#2f7ba9" fill-opacity="0.93"/>
<polygon points="1233.6,382.5 1248.5,398.8 1263.8,386.9 1248.9,370.8" fill="#496ba2" fill-opacity="0.93"/>
<polygon points="1560.7,433.6 1576.2,437.1 1589.6,416.9 1574.1,416.4" fill="#5e5192" fill-opacity="0.93"/>
<polygon points="1203.4,337.9 1218.6,365.1 1234.0,351.1 1219.0,330.1" fill="#1189ae" fill-opacity="0.93"/>
<polygon points="1172.6,219.7 1188.4,265.2 1204.0,252.0 1188.9,228.4" fill="#2fb788" fill-opacity="0.93"/>
<polygon points="1456.9,441.1 1472.1,448.8 1485.9,434.0 1470.8,430.2" fill="#61498c" fill-opacity="0.93"/>
<polygon points="1248.5,398.8 1263.4,410.6 1278.5,394.6 1263.8,386.9" fill="#54619d" fill-opacity="0.93"/>
<polygon points="1516.2,450.6 1531.6,453.9 1545.4,428.1 1530.0,426.4" fill="#62488c" fill-opacity="0.93"/>
<polygon points="1338.0,440.2 1352.9,448.4 1367.5,428.4 1352.6,415.7" fill="#604d8f" fill-opacity="0.93"/>
<polygon points="1263.4,410.6 1278.3,421.6 1293.3,406.8 1278.5,394.6" fill="#585d9b" fill-opacity="0.93"/>
<polygon points="1188.0,306.0 1203.4,337.9 1219.0,330.1 1203.8,300.2" fill="#00a2ac" fill-opacity="0.93"/>
<polygon points="1472.1,448.8 1487.2,459.6 1501.1,441.5 1485.9,434.0" fill="#62468b" fill-opacity="0.93"/>
<polygon points="1412.5,452.2 1427.7,452.4 1441.8,438.1 1426.7,434.1" fill="#62488b" fill-opacity="0.93"/>
<polygon points="1278.3,421.6 1293.3,435.5 1308.3,426.3 1293.3,406.8" fill="#5c5596" fill-opacity="0.93"/>
<polygon points="1352.9,448.4 1367.9,452.7 1382.4,437.2 1367.5,428.4" fill="#614a8d" fill-opacity="0.93"/>
<polygon points="1576.2,437.1 1591.7,441.3 1605.0,421.8 1589.6,416.9" fill="#5e5293" fill-opacity="0.93"/>
<polygon points="1531.6,453.9 1547.0,456.3 1560.7,433.6 1545.4,428.1" fill="#61498d" fill-opacity="0.93"/>
<polygon points="1293.3,435.5 1308.2,446.0 1323.1,432.9 1308.3,426.3" fill="#5f4f90" fill-opacity="0.93"/>
<polygon points="1367.9,452.7 1383.0,462.3 1397.4,449.4 1382.4,437.2" fill="#62468a" fill-opacity="0.93"/>
<polygon points="1487.2,459.6 1502.7,460.1 1516.2,450.6 1501.1,441.5" fill="#634489" fill-opacity="0.93"/>
<polygon points="1172.4,270.7 1188.0,306.0 1203.8,300.2 1188.4,265.2" fill="#00ae9a" fill-opacity="0.93"/>
<polygon points="1427.7,452.4 1442.9,454.4 1456.9,441.1 1441.8,438.1" fill="#614a8d" fill-opacity="0.93"/>
<polygon points="1308.2,446.0 1323.2,450.2 1338.0,440.2 1323.1,432.9" fill="#604d8f" fill-opacity="0.93"/>
<polygon points="1547.0,456.3 1562.7,455.7 1576.2,437.1 1560.7,433.6" fill="#614b8e" fill-opacity="0.93"/>
<polygon points="1383.0,462.3 1398.1,462.1 1412.5,452.2 1397.4,449.4" fill="#634489" fill-opacity="0.93"/>
<polygon points="1502.7,460.1 1518.1,465.3 1531.6,453.9 1516.2,450.6" fill="#634489" fill-opacity="0.93"/>
<polygon points="1202.9,374.5 1218.0,389.4 1233.6,382.5 1218.6,365.1" fill="#2a7daa" fill-opacity="0.93"/>
<polygon points="1323.2,450.2 1338.2,457.8 1352.9,448.4 1338.0,440.2" fill="#614b8d" fill-opacity="0.93"/>
<polygon points="1218.0,389.4 1232.9,402.5 1248.5,398.8 1233.6,382.5" fill="#4171a4" fill-opacity="0.93"/>
<polygon points="1442.9,454.4 1458.1,462.5 1472.1,448.8 1456.9,441.1" fill="#61498c" fill-opacity="0.93"/>
<polygon points="1232.9,402.5 1248.0,418.6 1263.4,410.6 1248.5,398.8" fill="#51649f" fill-opacity="0.93"/>
<polygon points="1187.4,339.7 1202.9,374.5 1218.6,365.1 1203.4,337.9" fill="#0b8daf" fill-opacity="0.93"/>
<polygon points="1248.0,418.6 1263.1,437.0 1278.3,421.6 1263.4,410.6" fill="#585c9b" fill-opacity="0.93"/>
<polygon points="1562.7,455.7 1578.4,458.2 1591.7,441.3 1576.2,437.1" fill="#604d8f" fill-opacity="0.93"/>
<polygon points="1458.1,462.5 1473.3,475.3 1487.2,459.6 1472.1,448.8" fill="#634489" fill-opacity="0.93"/>
<polygon points="1398.1,462.1 1413.3,471.7 1427.7,452.4 1412.5,452.2" fill="#62468a" fill-opacity="0.93"/>
<polygon points="1156.3,221.4 1172.4,270.7 1188.4,265.2 1172.6,219.7" fill="#4abb82" fill-opacity="0.93"/>
<polygon points="1338.2,457.8 1353.3,467.9 1367.9,452.7 1352.9,448.4" fill="#62488c" fill-opacity="0.93"/>
<polygon points="1263.1,437.0 1278.1,449.5 1293.3,435.5 1278.3,421.6" fill="#5c5595" fill-opacity="0.93"/>
<polygon points="1518.1,465.3 1533.6,467.0 1547.0,456.3 1531.6,453.9" fill="#63458a" fill-opacity="0.93"/>
<polygon points="1172.0,315.3 1187.4,339.7 1203.4,337.9 1188.0,306.0" fill="#00a6a8" fill-opacity="0.93"/>
<polygon points="1278.1,449.5 1293.1,457.2 1308.2,446.0 1293.3,435.5" fill="#5f5091" fill-opacity="0.93"/>
<polygon points="1473.3,475.3 1488.7,478.7 1502.7,460.1 1487.2,459.6" fill="#644288" fill-opacity="0.93"/>
<polygon points="1353.3,467.9 1368.4,474.1 1383.0,462.3 1367.9,452.7" fill="#63458a" fill-opacity="0.93"/>
<polygon points="1413.3,471.7 1428.5,479.4 1442.9,454.4 1427.7,452.4" fill="#63458a" fill-opacity="0.93"/>
<polygon points="1533.6,467.0 1549.2,471.8 1562.7,455.7 1547.0,456.3" fill="#62488b" fill-opacity="0.93"/>
<polygon points="1293.1,457.2 1308.2,464.2 1323.2,450.2 1308.2,446.0" fill="#604e90" fill-opacity="0.93"/>
<polygon points="1368.4,474.1 1383.6,480.4 1398.1,462.1 1383.0,462.3" fill="#634489" fill-opacity="0.93"/>
<polygon points="1428.5,479.4 1443.8,485.6 1458.1,462.5 1442.9,454.4" fill="#634489" fill-opacity="0.93"/>
<polygon points="1488.7,478.7 1504.2,480.5 1518.1,465.3 1502.7,460.1" fill="#634489" fill-opacity="0.93"/>
<polygon points="1155.5,255.3 1172.0,315.3 1188.0,306.0 1172.4,270.7" fill="#09b194" fill-opacity="0.93"/>
<polygon points="1308.2,464.2 1323.3,474.9 1338.2,457.8 1323.2,450.2" fill="#614b8e" fill-opacity="0.93"/>
<polygon points="1187.1,385.8 1202.2,399.3 1218.0,389.4 1202.9,374.5" fill="#2380ab" fill-opacity="0.93"/>
<polygon points="1549.2,471.8 1564.8,475.8 1578.4,458.2 1562.7,455.7" fill="#61498d" fill-opacity="0.93"/>
<polygon points="1443.8,485.6 1459.2,489.9 1473.3,475.3 1458.1,462.5" fill="#644187" fill-opacity="0.93"/>
<polygon points="1383.6,480.4 1398.8,488.4 1413.3,471.7 1398.1,462.1" fill="#634388" fill-opacity="0.93"/>
<polygon points="1202.2,399.3 1217.2,411.5 1232.9,402.5 1218.0,389.4" fill="#3677a7" fill-opacity="0.93"/>
<polygon points="1171.3,348.9 1187.1,385.8 1202.9,374.5 1187.4,339.7" fill="#0494b0" fill-opacity="0.93"/>
<polygon points="1323.3,474.9 1338.4,480.2 1353.3,467.9 1338.2,457.8" fill="#62488c" fill-opacity="0.93"/>
<polygon points="1217.2,411.5 1232.3,423.6 1248.0,418.6 1232.9,402.5" fill="#476ca2" fill-opacity="0.93"/>
<polygon points="1232.3,423.6 1247.6,445.9 1263.1,437.0 1248.0,418.6" fill="#555f9c" fill-opacity="0.93"/>
<polygon points="1247.6,445.9 1262.8,463.7 1278.1,449.5 1263.1,437.0" fill="#5c5595" fill-opacity="0.93"/>
<polygon points="1504.2,480.5 1519.9,482.5 1533.6,467.0 1518.1,465.3" fill="#62468a" fill-opacity="0.93"/>
<polygon points="1398.8,488.4 1414.1,492.8 1428.5,479.4 1413.3,471.7" fill="#644187" fill-opacity="0.93"/>
<polygon points="1262.8,463.7 1277.9,473.8 1293.1,457.2 1278.1,449.5" fill="#5f5091" fill-opacity="0.93"/>
<polygon points="1459.2,489.9 1474.7,491.3 1488.7,478.7 1473.3,475.3" fill="#644086" fill-opacity="0.93"/>
<polygon points="1140.1,233.6 1155.5,255.3 1172.4,270.7 1156.3,221.4" fill="#68c07c" fill-opacity="0.93"/>
<polygon points="1338.4,480.2 1353.6,487.2 1368.4,474.1 1353.3,467.9" fill="#63458a" fill-opacity="0.93"/>
<polygon points="1155.7,319.5 1171.3,348.9 1187.4,339.7 1172.0,315.3" fill="#00a9a3" fill-opacity="0.93"/>
<polygon points="1519.9,482.5 1535.4,488.8 1549.2,471.8 1533.6,467.0" fill="#62468b" fill-opacity="0.93"/>
<polygon points="1277.9,473.8 1293.0,484.8 1308.2,464.2 1293.1,457.2" fill="#604c8e" fill-opacity="0.93"/>
<polygon points="1414.1,492.8 1429.5,499.3 1443.8,485.6 1428.5,479.4" fill="#643f85" fill-opacity="0.93"/>
<polygon points="1353.6,487.2 1368.9,493.8 1383.6,480.4 1368.4,474.1" fill="#634489" fill-opacity="0.93"/>
<polygon points="1474.7,491.3 1490.4,490.6 1504.2,480.5 1488.7,478.7" fill="#634388" fill-opacity="0.93"/>
<polygon points="1293.0,484.8 1308.2,491.6 1323.3,474.9 1308.2,464.2" fill="#62488c" fill-opacity="0.93"/>
<polygon points="1535.4,488.8 1551.1,492.7 1564.8,475.8 1549.2,471.8" fill="#62468b" fill-opacity="0.93"/>
<polygon points="1429.5,499.3 1445.0,500.9 1459.2,489.9 1443.8,485.6" fill="#643f85" fill-opacity="0.93"/>
<polygon points="1139.6,278.6 1155.7,319.5 1172.0,315.3 1155.5,255.3" fill="#14b38e" fill-opacity="0.93"/>
<polygon points="1368.9,493.8 1384.2,500.8 1398.8,488.4 1383.6,480.4" fill="#644287" fill-opacity="0.93"/>
<polygon points="1308.2,491.6 1323.4,499.0 1338.4,480.2 1323.3,474.9" fill="#63458a" fill-opacity="0.93"/>
<polygon points="1170.6,384.3 1186.1,408.7 1202.2,399.3 1187.1,385.8" fill="#1984ac" fill-opacity="0.93"/>
<polygon points="1186.1,408.7 1201.4,427.0 1217.2,411.5 1202.2,399.3" fill="#317aa8" fill-opacity="0.93"/>
<polygon points="1490.4,490.6 1505.8,503.5 1519.9,482.5 1504.2,480.5" fill="#634489" fill-opacity="0.93"/>
<polygon points="1155.3,367.1 1170.6,384.3 1187.1,385.8 1171.3,348.9" fill="#0098b1" fill-opacity="0.93"/>
<polygon points="1201.4,427.0 1216.6,440.1 1232.3,423.6 1217.2,411.5" fill="#446fa3" fill-opacity="0.93"/>
<polygon points="1216.6,440.1 1231.8,453.3 1247.6,445.9 1232.3,423.6" fill="#53619d" fill-opacity="0.93"/>
<polygon points="1384.2,500.8 1399.6,506.8 1414.1,492.8 1398.8,488.4" fill="#644086" fill-opacity="0.93"/>
<polygon points="1231.8,453.3 1247.1,467.9 1262.8,463.7 1247.6,445.9" fill="#5a5998" fill-opacity="0.93"/>
<polygon points="1323.4,499.0 1338.6,504.8 1353.6,487.2 1338.4,480.2" fill="#634489" fill-opacity="0.93"/>
<polygon points="1445.0,500.9 1460.6,501.9 1474.7,491.3 1459.2,489.9" fill="#644287" fill-opacity="0.93"/>
<polygon points="1247.1,467.9 1262.3,483.4 1277.9,473.8 1262.8,463.7" fill="#5e5292" fill-opacity="0.93"/>
<polygon points="1505.8,503.5 1521.7,499.3 1535.4,488.8 1519.9,482.5" fill="#634489" fill-opacity="0.93"/>
<polygon points="1139.2,328.7 1155.3,367.1 1171.3,348.9 1155.7,319.5" fill="#00aaa1" fill-opacity="0.93"/>
<polygon points="1262.3,483.4 1277.6,492.9 1293.0,484.8 1277.9,473.8" fill="#604c8e" fill-opacity="0.93"/>
<polygon points="1399.6,506.8 1415.0,511.0 1429.5,499.3 1414.1,492.8" fill="#644086" fill-opacity="0.93"/>
<polygon points="1122.7,220.7 1139.6,278.6 1155.5,255.3 1140.1,233.6" fill="#83c672" fill-opacity="0.93"/>
<polygon points="1338.6,504.8 1353.9,510.9 1368.9,493.8 1353.6,487.2" fill="#644288" fill-opacity="0.93"/>
<polygon points="1460.6,501.9 1476.1,512.6 1490.4,490.6 1474.7,491.3" fill="#634388" fill-opacity="0.93"/>
<polygon points="1277.6,492.9 1292.8,500.4 1308.2,491.6 1293.0,484.8" fill="#62488c" fill-opacity="0.93"/>
<polygon points="1521.7,499.3 1537.3,510.1 1551.1,492.7 1535.4,488.8" fill="#634589" fill-opacity="0.93"/>
<polygon points="1353.9,510.9 1369.3,521.3 1384.2,500.8 1368.9,493.8" fill="#644086" fill-opacity="0.93"/>
<polygon points="1415.0,511.0 1430.6,514.0 1445.0,500.9 1429.5,499.3" fill="#644086" fill-opacity="0.93"/>
<polygon points="1476.1,512.6 1491.8,517.3 1505.8,503.5 1490.4,490.6" fill="#644187" fill-opacity="0.93"/>
<polygon points="1292.8,500.4 1308.1,508.8 1323.4,499.0 1308.2,491.6" fill="#62468a" fill-opacity="0.93"/>
<polygon points="1122.2,269.8 1139.2,328.7 1155.7,319.5 1139.6,278.6" fill="#20b58b" fill-opacity="0.93"/>
<polygon points="1169.9,420.9 1185.3,439.0 1201.4,427.0 1186.1,408.7" fill="#2f7ba9" fill-opacity="0.93"/>
<polygon points="1154.4,398.6 1169.9,420.9 1186.1,408.7 1170.6,384.3" fill="#1288ae" fill-opacity="0.93"/>
<polygon points="1185.3,439.0 1200.5,449.4 1216.6,440.1 1201.4,427.0" fill="#446fa3" fill-opacity="0.93"/>
<polygon points="1369.3,521.3 1384.8,527.6 1399.6,506.8 1384.2,500.8" fill="#643d83" fill-opacity="0.93"/>
<polygon points="1200.5,449.4 1215.9,464.6 1231.8,453.3 1216.6,440.1" fill="#51649f" fill-opacity="0.93"/>
<polygon points="1308.1,508.8 1323.4,517.9 1338.6,504.8 1323.4,499.0" fill="#634388" fill-opacity="0.93"/>
<polygon points="1138.4,365.0 1154.4,398.6 1170.6,384.3 1155.3,367.1" fill="#009eae" fill-opacity="0.93"/>
<polygon points="1430.6,514.0 1446.1,522.9 1460.6,501.9 1445.0,500.9" fill="#644287" fill-opacity="0.93"/>
<polygon points="1491.8,517.3 1507.5,523.2 1521.7,499.3 1505.8,503.5" fill="#644187" fill-opacity="0.93"/>
<polygon points="1215.9,464.6 1231.2,478.6 1247.1,467.9 1231.8,453.3" fill="#575d9b" fill-opacity="0.93"/>
<polygon points="1231.2,478.6 1246.5,491.8 1262.3,483.4 1247.1,467.9" fill="#5c5696" fill-opacity="0.93"/>
<polygon points="1384.8,527.6 1400.3,532.4 1415.0,511.0 1399.6,506.8" fill="#643d83" fill-opacity="0.93"/>
<polygon points="1323.4,517.9 1338.8,524.3 1353.9,510.9 1338.6,504.8" fill="#644187" fill-opacity="0.93"/>
<polygon points="1246.5,491.8 1261.9,505.9 1277.6,492.9 1262.3,483.4" fill="#5f5091" fill-opacity="0.93"/>
<polygon points="1446.1,522.9 1461.8,528.5 1476.1,512.6 1460.6,501.9" fill="#644086" fill-opacity="0.93"/>
<polygon points="1122.0,325.7 1138.4,365.0 1155.3,367.1 1139.2,328.7" fill="#00ac9e" fill-opacity="0.93"/>
<polygon points="1507.5,523.2 1523.4,524.6 1537.3,510.1 1521.7,499.3" fill="#644288" fill-opacity="0.93"/>
<polygon points="1261.9,505.9 1277.3,520.2 1292.8,500.4 1277.6,492.9" fill="#614a8d" fill-opacity="0.93"/>
<polygon points="1106.0,233.0 1122.2,269.8 1139.6,278.6 1122.7,220.7" fill="#98cc66" fill-opacity="0.93"/>
<polygon points="1400.3,532.4 1415.8,541.6 1430.6,514.0 1415.0,511.0" fill="#643c82" fill-opacity="0.93"/>
<polygon points="1338.8,524.3 1354.3,530.6 1369.3,521.3 1353.9,510.9" fill="#643f85" fill-opacity="0.93"/>
<polygon points="1461.8,528.5 1477.5,532.1 1491.8,517.3 1476.1,512.6" fill="#643f85" fill-opacity="0.93"/>
<polygon points="1277.3,520.2 1292.7,529.5 1308.1,508.8 1292.8,500.4" fill="#63458a" fill-opacity="0.93"/>
<polygon points="1415.8,541.6 1431.4,552.0 1446.1,522.9 1430.6,514.0" fill="#643a80" fill-opacity="0.93"/>
<polygon points="1354.3,530.6 1369.8,542.0 1384.8,527.6 1369.3,521.3" fill="#643b81" fill-opacity="0.93"/>
<polygon points="1153.2,425.5 1168.6,439.4 1185.3,439.0 1169.9,420.9" fill="#2380ab" fill-opacity="0.93"/>
<polygon points="1292.7,529.5 1308.1,536.3 1323.4,517.9 1308.1,508.8" fill="#644287" fill-opacity="0.93"/>
<polygon points="1137.5,401.7 1153.2,425.5 1169.9,420.9 1154.4,398.6" fill="#0c8caf" fill-opacity="0.93"/>
<polygon points="1477.5,532.1 1493.3,538.5 1507.5,523.2 1491.8,517.3" fill="#643e84" fill-opacity="0.93"/>
<polygon points="1184.0,453.6 1200.0,488.7 1215.9,464.6 1200.5,449.4" fill="#4f66a0" fill-opacity="0.93"/>
<polygon points="1168.6,439.4 1184.0,453.6 1200.5,449.4 1185.3,439.0" fill="#3677a7" fill-opacity="0.93"/>
<polygon points="1200.0,488.7 1215.2,491.6 1231.2,478.6 1215.9,464.6" fill="#585c9b" fill-opacity="0.93"/>
<polygon points="1369.8,542.0 1385.4,545.3 1400.3,532.4 1384.8,527.6" fill="#643a80" fill-opacity="0.93"/>
<polygon points="1431.4,552.0 1447.2,549.2 1461.8,528.5 1446.1,522.9" fill="#64397f" fill-opacity="0.93"/>
<polygon points="1104.4,258.7 1122.0,325.7 1139.2,328.7 1122.2,269.8" fill="#4fbc81" fill-opacity="0.93"/>
<polygon points="1308.1,536.3 1323.6,545.7 1338.8,524.3 1323.4,517.9" fill="#643f85" fill-opacity="0.93"/>
<polygon points="1121.2,364.6 1137.5,401.7 1154.4,398.6 1138.4,365.0" fill="#00a5a9" fill-opacity="0.93"/>
<polygon points="1215.2,491.6 1230.6,503.0 1246.5,491.8 1231.2,478.6" fill="#5a5898" fill-opacity="0.93"/>
<polygon points="1493.3,538.5 1509.3,540.1 1523.4,524.6 1507.5,523.2" fill="#643f85" fill-opacity="0.93"/>
<polygon points="1230.6,503.0 1246.0,516.5 1261.9,505.9 1246.5,491.8" fill="#5e5293" fill-opacity="0.93"/>
<polygon points="1385.4,545.3 1401.0,555.2 1415.8,541.6 1400.3,532.4" fill="#64387e" fill-opacity="0.93"/>
<polygon points="1246.0,516.5 1261.5,530.6 1277.3,520.2 1261.9,505.9" fill="#614a8d" fill-opacity="0.93"/>
<polygon points="1323.6,545.7 1339.1,549.9 1354.3,530.6 1338.8,524.3" fill="#643d83" fill-opacity="0.93"/>
<polygon points="1447.2,549.2 1463.0,553.6 1477.5,532.1 1461.8,528.5" fill="#643b81" fill-opacity="0.93"/>
<polygon points="1401.0,555.2 1416.7,561.2 1431.4,552.0 1415.8,541.6" fill="#64357b" fill-opacity="0.93"/>
<polygon points="1261.5,530.6 1277.0,540.9 1292.7,529.5 1277.3,520.2" fill="#634489" fill-opacity="0.93"/>
<polygon points="1104.9,330.8 1121.2,364.6 1138.4,365.0 1122.0,325.7" fill="#02af97" fill-opacity="0.93"/>
<polygon points="1339.1,549.9 1354.6,558.4 1369.8,542.0 1354.3,530.6" fill="#643b81" fill-opacity="0.93"/>
<polygon points="1277.0,540.9 1292.6,553.4 1308.1,536.3 1292.7,529.5" fill="#643f85" fill-opacity="0.93"/>
<polygon points="1463.0,553.6 1479.0,553.0 1493.3,538.5 1477.5,532.1" fill="#643c82" fill-opacity="0.93"/>
<polygon points="1087.9,221.4 1104.4,258.7 1122.2,269.8 1106.0,233.0" fill="#c1d74e" fill-opacity="0.93"/>
<polygon points="1416.7,561.2 1432.6,558.6 1447.2,549.2 1431.4,552.0" fill="#64367c" fill-opacity="0.93"/>
<polygon points="1354.6,558.4 1370.3,567.1 1385.4,545.3 1369.8,542.0" fill="#64387e" fill-opacity="0.93"/>
<polygon points="1183.3,489.3 1198.9,505.5 1215.2,491.6 1200.0,488.7" fill="#575d9b" fill-opacity="0.93"/>
<polygon points="1167.6,469.1 1183.3,489.3 1200.0,488.7 1184.0,453.6" fill="#4b69a1" fill-opacity="0.93"/>
<polygon points="1292.6,553.4 1308.1,562.5 1323.6,545.7 1308.1,536.3" fill="#643b81" fill-opacity="0.93"/>
<polygon points="1136.0,424.5 1151.9,449.5 1168.6,439.4 1153.2,425.5" fill="#1288ae" fill-opacity="0.93"/>
<polygon points="1151.9,449.5 1167.6,469.1 1184.0,453.6 1168.6,439.4" fill="#297eaa" fill-opacity="0.93"/>
<polygon points="1120.0,398.9 1136.0,424.5 1153.2,425.5 1137.5,401.7" fill="#009bb0" fill-opacity="0.93"/>
<polygon points="1198.9,505.5 1214.5,519.0 1230.6,503.0 1215.2,491.6" fill="#5a5898" fill-opacity="0.93"/>
<polygon points="1479.0,553.0 1495.0,556.3 1509.3,540.1 1493.3,538.5" fill="#643e84" fill-opacity="0.93"/>
<polygon points="1088.4,293.6 1104.9,330.8 1122.0,325.7 1104.4,258.7" fill="#60bf7d" fill-opacity="0.93"/>
<polygon points="1370.3,567.1 1386.0,575.6 1401.0,555.2 1385.4,545.3" fill="#64367c" fill-opacity="0.93"/>
<polygon points="1308.1,562.5 1323.7,573.1 1339.1,549.9 1323.6,545.7" fill="#64387e" fill-opacity="0.93"/>
<polygon points="1214.5,519.0 1230.0,531.8 1246.0,516.5 1230.6,503.0" fill="#5d5393" fill-opacity="0.93"/>
<polygon points="1432.6,558.6 1448.4,565.5 1463.0,553.6 1447.2,549.2" fill="#643a80" fill-opacity="0.93"/>
<polygon points="1230.0,531.8 1245.6,545.9 1261.5,530.6 1246.0,516.5" fill="#614b8e" fill-opacity="0.93"/>
<polygon points="1103.5,361.4 1120.0,398.9 1137.5,401.7 1121.2,364.6" fill="#00aba0" fill-opacity="0.93"/>
<polygon points="1386.0,575.6 1401.8,575.4 1416.7,561.2 1401.0,555.2" fill="#64357b" fill-opacity="0.93"/>
<polygon points="1245.6,545.9 1261.2,557.9 1277.0,540.9 1261.5,530.6" fill="#634489" fill-opacity="0.93"/>
<polygon points="1323.7,573.1 1339.3,570.6 1354.6,558.4 1339.1,549.9" fill="#64387e" fill-opacity="0.93"/>
<polygon points="1448.4,565.5 1464.3,574.9 1479.0,553.0 1463.0,553.6" fill="#643a80" fill-opacity="0.93"/>
<polygon points="1261.2,557.9 1276.8,569.0 1292.6,553.4 1277.0,540.9" fill="#643f85" fill-opacity="0.93"/>
<polygon points="1339.3,570.6 1355.0,580.9 1370.3,567.1 1354.6,558.4" fill="#64377d" fill-opacity="0.93"/>
<polygon points="1086.8,322.8 1103.5,361.4 1121.2,364.6 1104.9,330.8" fill="#18b48c" fill-opacity="0.93"/>
<polygon points="1276.8,569.0 1292.4,576.8 1308.1,562.5 1292.6,553.4" fill="#643a80" fill-opacity="0.93"/>
<polygon points="1401.8,575.4 1417.6,579.3 1432.6,558.6 1416.7,561.2" fill="#64387e" fill-opacity="0.93"/>
<polygon points="1464.3,574.9 1480.5,572.9 1495.0,556.3 1479.0,553.0" fill="#643c82" fill-opacity="0.93"/>
<polygon points="1355.0,580.9 1370.8,588.3 1386.0,575.6 1370.3,567.1" fill="#643379" fill-opacity="0.93"/>
<polygon points="1068.9,196.8 1088.4,293.6 1104.4,258.7 1087.9,221.4" fill="#e3dd3b" fill-opacity="0.93"/>
<polygon points="1292.4,576.8 1308.0,578.6 1323.7,573.1 1308.1,562.5" fill="#64387e" fill-opacity="0.93"/>
<polygon points="1417.6,579.3 1433.6,581.2 1448.4,565.5 1432.6,558.6" fill="#643a80" fill-opacity="0.93"/>
<polygon points="1370.8,588.3 1386.6,593.9 1401.8,575.4 1386.0,575.6" fill="#643379" fill-opacity="0.93"/>
<polygon points="1069.0,262.2 1086.8,322.8 1104.9,330.8 1088.4,293.6" fill="#81c673" fill-opacity="0.93"/>
<polygon points="1308.0,578.6 1323.8,595.5 1339.3,570.6 1323.7,573.1" fill="#64367c" fill-opacity="0.93"/>
<polygon points="1433.6,581.2 1449.5,591.6 1464.3,574.9 1448.4,565.5" fill="#64387e" fill-opacity="0.93"/>
<polygon points="1323.8,595.5 1339.5,598.5 1355.0,580.9 1339.3,570.6" fill="#64357b" fill-opacity="0.93"/>
<polygon points="1386.6,593.9 1402.6,597.4 1417.6,579.3 1401.8,575.4" fill="#64357b" fill-opacity="0.93"/>
<polygon points="1449.5,591.6 1465.7,590.5 1480.5,572.9 1464.3,574.9" fill="#64397f" fill-opacity="0.93"/>
<polygon points="1339.5,598.5 1355.4,601.6 1370.8,588.3 1355.0,580.9" fill="#64347a" fill-opacity="0.93"/>
<polygon points="1402.6,597.4 1418.6,596.2 1433.6,581.2 1417.6,579.3" fill="#64387e" fill-opacity="0.93"/>
<polygon points="1355.4,601.6 1371.3,611.0 1386.6,593.9 1370.8,588.3" fill="#643379" fill-opacity="0.93"/>
<polygon points="1051.5,213.9 1069.0,262.2 1088.4,293.6 1068.9,196.8" fill="#f5e132" fill-opacity="0.93"/>
<polygon points="1418.6,596.2 1434.6,611.3 1449.5,591.6 1433.6,581.2" fill="#64367c" fill-opacity="0.93"/>
<polygon points="1371.3,611.0 1387.3,616.2 1402.6,597.4 1386.6,593.9" fill="#643278" fill-opacity="0.93"/>
<polygon points="1434.6,611.3 1450.9,606.6 1465.7,590.5 1449.5,591.6" fill="#64367c" fill-opacity="0.93"/>
<polygon points="1387.3,616.2 1403.3,622.1 1418.6,596.2 1402.6,597.4" fill="#64347a" fill-opacity="0.93"/>
<polygon points="1403.3,622.1 1419.6,618.4 1434.6,611.3 1418.6,596.2" fill="#64357b" fill-opacity="0.93"/>
<polygon points="1419.6,618.4 1435.8,626.5 1450.9,606.6 1434.6,611.3" fill="#64367c" fill-opacity="0.93"/>
</g>
<path d="M1066.9 514.1L1281.3 336.4M1281.3 336.4L1277.7 56.7M1125.5 533.4L1336.8 352.6M1336.8 352.6L1335.9 71.6M1185.3 552.9L1393.2 369.0M1393.2 369.0L1395.1 86.7M1246.1 572.7L1450.6 385.7M1450.6 385.7L1455.3 102.0M1308.1 592.8L1508.9 402.6M1508.9 402.6L1516.6 117.5M1371.3 613.3L1568.3 419.8M1568.3 419.8L1579.1 133.3M1435.6 634.1L1628.7 437.2M1628.7 437.2L1642.6 149.3M1066.9 514.1L1435.6 634.1M1066.9 514.1L1051.6 215.1M1124.1 466.5L1487.3 581.2M1124.1 466.5L1112.1 172.6M1178.8 421.1L1536.6 530.9M1178.8 421.1L1169.9 132.1M1231.2 377.8L1583.7 482.9M1231.2 377.8L1225.0 93.5M1281.3 336.4L1628.7 437.2M1281.3 336.4L1277.7 56.7M1066.9 514.1L1281.3 336.4M1281.3 336.4L1628.7 437.2M1063.2 442.2L1280.4 268.8M1280.4 268.8L1632.0 367.8M1059.4 368.4L1279.6 199.8M1279.6 199.8L1635.5 296.7M1055.6 292.8L1278.7 129.1M1278.7 129.1L1639.0 223.9M1051.6 215.1L1277.7 56.7M1277.7 56.7L1642.6 149.3" fill="none" stroke="#55555c" stroke-opacity="0.05" stroke-width="2.0" stroke-dasharray="3.6 2.9"/>
<path d="M1051.6 215.1L1066.9 514.1L1435.6 634.1L1628.7 437.2M1125.5 533.4L1132.8 527.2M1185.3 552.9L1192.4 546.6M1246.1 572.7L1253.1 566.3M1308.1 592.8L1315.0 586.3M1371.3 613.3L1378.1 606.7M1066.9 514.1L1074.2 508.1M1487.3 581.2L1478.3 578.3M1536.6 530.9L1527.6 528.1M1583.7 482.9L1574.6 480.2M1628.7 437.2L1619.6 434.5M1063.2 442.2L1070.6 436.3M1059.4 368.4L1067.0 362.6M1055.6 292.8L1063.2 287.1" fill="none" stroke="#111" stroke-width="2.6" stroke-linejoin="miter" stroke-linecap="butt"/>
<text x="1055.5" y="518.0" text-anchor="end" style="font-family:'Liberation Serif',serif;font-size:33.2px">5500</text>
<text x="1052.5" y="445.5" text-anchor="end" style="font-family:'Liberation Serif',serif;font-size:33.2px">6000</text>
<text x="1049.0" y="371.5" text-anchor="end" style="font-family:'Liberation Serif',serif;font-size:33.2px">6500</text>
<text x="1045.5" y="299.0" text-anchor="end" style="font-family:'Liberation Serif',serif;font-size:33.2px">7000</text>
<text x="1043.5" y="219.0" text-anchor="end" style="font-family:'Liberation Serif',serif;font-size:33.2px">7500</text>
<text x="1071.3" y="544.3" text-anchor="end" style="font-family:'Liberation Serif',serif;font-size:33.2px">5.0</text>
<text x="1128.3" y="563.3" text-anchor="end" style="font-family:'Liberation Serif',serif;font-size:33.2px">7.5</text>
<text x="1189.0" y="582.0" text-anchor="end" style="font-family:'Liberation Serif',serif;font-size:33.2px">10.0</text>
<text x="1248.5" y="602.0" text-anchor="end" style="font-family:'Liberation Serif',serif;font-size:33.2px">12.5</text>
<text x="1311.8" y="621.0" text-anchor="end" style="font-family:'Liberation Serif',serif;font-size:33.2px">15.0</text>
<text x="1373.3" y="642.0" text-anchor="end" style="font-family:'Liberation Serif',serif;font-size:33.2px">17.5</text>
<text x="1439.0" y="662.5" text-anchor="end" style="font-family:'Liberation Serif',serif;font-size:33.2px">20.0</text>
<text x="1446.5" y="645.5" style="font-family:'Liberation Serif',serif;font-size:33.2px">0.6</text>
<text x="1497.5" y="595.0" style="font-family:'Liberation Serif',serif;font-size:33.2px">0.7</text>
<text x="1549.5" y="541.7" style="font-family:'Liberation Serif',serif;font-size:33.2px">0.8</text>
<text x="1600.0" y="494.0" style="font-family:'Liberation Serif',serif;font-size:33.2px">0.9</text>
<text x="1647.5" y="445.7" style="font-family:'Liberation Serif',serif;font-size:33.2px">1.0</text>
<text transform="translate(1190.5,650.5) rotate(14.4)" text-anchor="middle" style="font-family:'Liberation Serif',serif;font-size:33.2px">Threshold <tspan font-style="italic">L</tspan>/%</text>
<text transform="translate(1600.6,588.7) rotate(-45.2)" text-anchor="middle" style="font-family:'Liberation Serif',serif;font-size:33.2px">Recovery factor <tspan font-style="italic">r</tspan></text>
<text transform="translate(962,370) rotate(-90)" text-anchor="middle" style="font-family:'Liberation Serif',serif;font-size:33.2px">Annual cost rate/RMB</text>
<text x="1406.1" y="751" text-anchor="middle" style="font-family:'Liberation Serif',serif;font-size:42px">(<tspan font-weight="bold">b</tspan>)</text>
<rect x="1717.4" y="655.72" width="33.6" height="32.58" fill="#481c62" shape-rendering="crispEdges"/>
<rect x="1717.4" y="623.75" width="33.6" height="32.58" fill="#482873" shape-rendering="crispEdges"/>
<rect x="1717.4" y="591.77" width="33.6" height="32.58" fill="#463484" shape-rendering="crispEdges"/>
<rect x="1717.4" y="559.80" width="33.6" height="32.58" fill="#444191" shape-rendering="crispEdges"/>
<rect x="1717.4" y="527.82" width="33.6" height="32.58" fill="#3e5098" shape-rendering="crispEdges"/>
<rect x="1717.4" y="495.84" width="33.6" height="32.58" fill="#385c9e" shape-rendering="crispEdges"/>
<rect x="1717.4" y="463.87" width="33.6" height="32.58" fill="#3268a0" shape-rendering="crispEdges"/>
<rect x="1717.4" y="431.89" width="33.6" height="32.58" fill="#2c72a0" shape-rendering="crispEdges"/>
<rect x="1717.4" y="399.91" width="33.6" height="32.58" fill="#267c9e" shape-rendering="crispEdges"/>
<rect x="1717.4" y="367.94" width="33.6" height="32.58" fill="#21869b" shape-rendering="crispEdges"/>
<rect x="1717.4" y="335.96" width="33.6" height="32.58" fill="#1e9096" shape-rendering="crispEdges"/>
<rect x="1717.4" y="303.99" width="33.6" height="32.58" fill="#1e9a8e" shape-rendering="crispEdges"/>
<rect x="1717.4" y="272.01" width="33.6" height="32.58" fill="#20a486" shape-rendering="crispEdges"/>
<rect x="1717.4" y="240.03" width="33.6" height="32.58" fill="#28ae7d" shape-rendering="crispEdges"/>
<rect x="1717.4" y="208.06" width="33.6" height="32.58" fill="#37b673" shape-rendering="crispEdges"/>
<rect x="1717.4" y="176.08" width="33.6" height="32.58" fill="#50be69" shape-rendering="crispEdges"/>
<rect x="1717.4" y="144.10" width="33.6" height="32.58" fill="#6ec65c" shape-rendering="crispEdges"/>
<rect x="1717.4" y="112.13" width="33.6" height="32.58" fill="#8cce4e" shape-rendering="crispEdges"/>
<rect x="1717.4" y="80.15" width="33.6" height="32.58" fill="#aad43e" shape-rendering="crispEdges"/>
<rect x="1717.4" y="48.18" width="33.6" height="32.58" fill="#cddc2d" shape-rendering="crispEdges"/>
<rect x="1717.4" y="16.20" width="33.6" height="32.58" fill="#eee420" shape-rendering="crispEdges"/>
<path d="M1717.4 655.72H1751.0" stroke="rgba(40,40,40,0.34)" stroke-width="0.9"/>
<path d="M1717.4 623.75H1751.0" stroke="rgba(40,40,40,0.34)" stroke-width="0.9"/>
<path d="M1717.4 591.77H1751.0" stroke="rgba(40,40,40,0.34)" stroke-width="0.9"/>
<path d="M1717.4 559.80H1751.0" stroke="rgba(40,40,40,0.34)" stroke-width="0.9"/>
<path d="M1717.4 527.82H1751.0" stroke="rgba(40,40,40,0.34)" stroke-width="0.9"/>
<path d="M1717.4 495.84H1751.0" stroke="rgba(40,40,40,0.34)" stroke-width="0.9"/>
<path d="M1717.4 463.87H1751.0" stroke="rgba(40,40,40,0.34)" stroke-width="0.9"/>
<path d="M1717.4 431.89H1751.0" stroke="rgba(40,40,40,0.34)" stroke-width="0.9"/>
<path d="M1717.4 399.91H1751.0" stroke="rgba(40,40,40,0.34)" stroke-width="0.9"/>
<path d="M1717.4 367.94H1751.0" stroke="rgba(40,40,40,0.34)" stroke-width="0.9"/>
<path d="M1717.4 335.96H1751.0" stroke="rgba(40,40,40,0.34)" stroke-width="0.9"/>
<path d="M1717.4 303.99H1751.0" stroke="rgba(40,40,40,0.34)" stroke-width="0.9"/>
<path d="M1717.4 272.01H1751.0" stroke="rgba(40,40,40,0.34)" stroke-width="0.9"/>
<path d="M1717.4 240.03H1751.0" stroke="rgba(40,40,40,0.34)" stroke-width="0.9"/>
<path d="M1717.4 208.06H1751.0" stroke="rgba(40,40,40,0.34)" stroke-width="0.9"/>
<path d="M1717.4 176.08H1751.0" stroke="rgba(40,40,40,0.34)" stroke-width="0.9"/>
<path d="M1717.4 144.10H1751.0" stroke="rgba(40,40,40,0.34)" stroke-width="0.9"/>
<path d="M1717.4 112.13H1751.0" stroke="rgba(40,40,40,0.34)" stroke-width="0.9"/>
<path d="M1717.4 80.15H1751.0" stroke="rgba(40,40,40,0.34)" stroke-width="0.9"/>
<path d="M1717.4 48.18H1751.0" stroke="rgba(40,40,40,0.34)" stroke-width="0.9"/>
<rect x="1717.4" y="16.2" width="33.6" height="671.5" fill="none" stroke="#111" stroke-width="2.0"/>
<text x="1762.0" y="699.9" style="font-family:'Liberation Serif',serif;font-size:33.2px">5400</text>
<text x="1762.0" y="604.0" style="font-family:'Liberation Serif',serif;font-size:33.2px">5700</text>
<text x="1762.0" y="508.0" style="font-family:'Liberation Serif',serif;font-size:33.2px">6000</text>
<text x="1762.0" y="412.1" style="font-family:'Liberation Serif',serif;font-size:33.2px">6300</text>
<text x="1762.0" y="316.2" style="font-family:'Liberation Serif',serif;font-size:33.2px">6600</text>
<text x="1762.0" y="220.3" style="font-family:'Liberation Serif',serif;font-size:33.2px">6900</text>
<text x="1762.0" y="124.3" style="font-family:'Liberation Serif',serif;font-size:33.2px">7200</text>
<text x="1762.0" y="28.4" style="font-family:'Liberation Serif',serif;font-size:33.2px">7500</text>
<path d="M1751.0 687.7H1759.0M1751.0 591.8H1759.0M1751.0 495.8H1759.0M1751.0 399.9H1759.0M1751.0 304.0H1759.0M1751.0 208.1H1759.0M1751.0 112.1H1759.0M1751.0 16.2H1759.0" stroke="#000" stroke-width="1.5" fill="none"/>
<text transform="translate(1868.0,388.0) rotate(-90)" text-anchor="middle" style="font-family:'Liberation Serif',serif;font-size:33.2px">Annual cost rate/RMB</text>
</svg></body></html>
